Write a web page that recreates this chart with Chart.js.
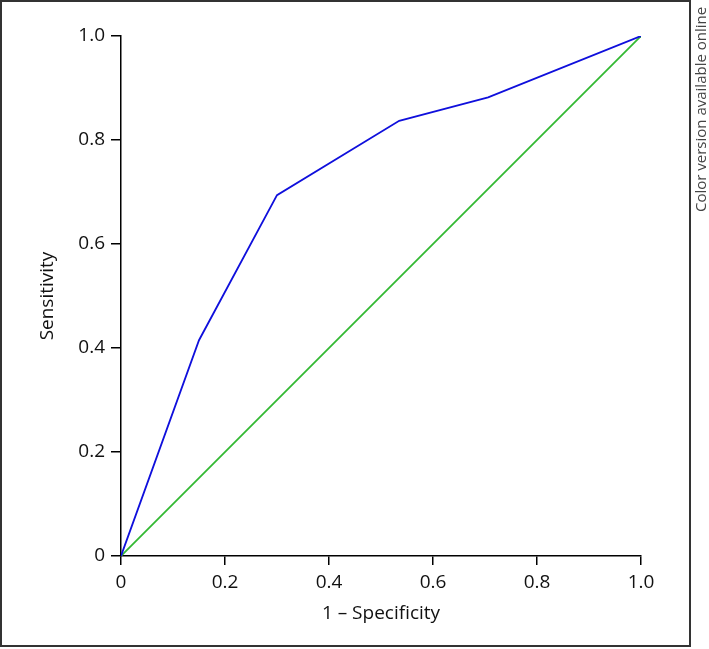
<!DOCTYPE html>
<html>
<head>
<meta charset="utf-8">
<script src="https://cdn.jsdelivr.net/npm/chart.js@4/dist/chart.umd.min.js"></script>
<style>
  html, body { margin: 0; padding: 0; background: #fff; }
  #wrap { width: 709px; height: 649px; position: relative; }
</style>
</head>
<body>
<div id="wrap"><canvas id="rocChart" width="709" height="649"></canvas></div>
<script>
// ROC curve values
const fpr = [0, 0.15, 0.30, 0.535, 0.706, 1.0];
const tpr = [0, 0.415, 0.694, 0.837, 0.882, 1.0];
const refX = [0, 1];
const refY = [0, 1];
const tickValues = [0, 0.2, 0.4, 0.6, 0.8, 1.0];

const toPoints = (xs, ys) => xs.map((x, i) => ({ x: x, y: ys[i] }));
const tickLabel = v => (v === 0 ? '0' : v.toFixed(1));

// frame round the figure and the side note
const framePlugin = {
    id: 'frame',
    afterDraw(chart) {
        const c = chart.ctx;
        c.save();
        c.strokeStyle = '#333';
        c.lineWidth = 2;
        c.strokeRect(1, 1, 689, 645);
        c.translate(702, 212);
        c.rotate(-Math.PI / 2);
        c.fillStyle = '#444';
        c.font = '15px "Open Sans"';
        c.textAlign = 'left';
        c.textBaseline = 'middle';
        c.fillText('Color version available online', 0, 0);
        c.restore();
    }
};

const axisFont = { family: '"Open Sans"', size: 19 };

new Chart(document.getElementById('rocChart'), {
    type: 'line',
    data: {
        datasets: [{
            data: toPoints(fpr, tpr),
            borderColor: 'rgb(15, 15, 220)',
            borderWidth: 1.8,
            pointRadius: 0,
            tension: 0
        }, {
            data: toPoints(refX, refY),
            borderColor: 'rgb(50, 185, 50)',
            borderWidth: 1.8,
            pointRadius: 0,
            tension: 0
        }]
    },
    options: {
        responsive: false,
        animation: false,
        layout: { padding: { left: 0, top: 36, right: 68, bottom: 0 } },
        plugins: { legend: { display: false }, tooltip: { enabled: false } },
        scales: {
            x: {
                type: 'linear',
                min: 0, max: 1,
                afterFit(s) { s.height = 93; },
                afterBuildTicks(s) { s.ticks = tickValues.map(v => ({ value: v })); },
                grid: { drawOnChartArea: false, drawTicks: true, tickLength: 9, color: '#000', lineWidth: 1.5 },
                border: { display: true, color: '#000', width: 1.5 },
                ticks: { color: '#111', font: axisFont, padding: 6, maxRotation: 0, callback: tickLabel },
                title: { display: true, text: '1 – Specificity', color: '#111', font: axisFont, padding: { top: 0, bottom: 24 } }
            },
            y: {
                type: 'linear',
                min: 0, max: 1,
                afterFit(s) { s.width = 121; },
                afterBuildTicks(s) { s.ticks = tickValues.map(v => ({ value: v })); },
                grid: { drawOnChartArea: false, drawTicks: true, tickLength: 10, color: '#000', lineWidth: 1.5 },
                border: { display: true, color: '#000', width: 1.5 },
                ticks: { color: '#111', font: axisFont, padding: 6, callback: tickLabel },
                title: { display: true, text: 'Sensitivity', color: '#111', font: axisFont, padding: { top: 36, bottom: 0 } }
            }
        }
    },
    plugins: [framePlugin]
});
</script>
</body>
</html>
